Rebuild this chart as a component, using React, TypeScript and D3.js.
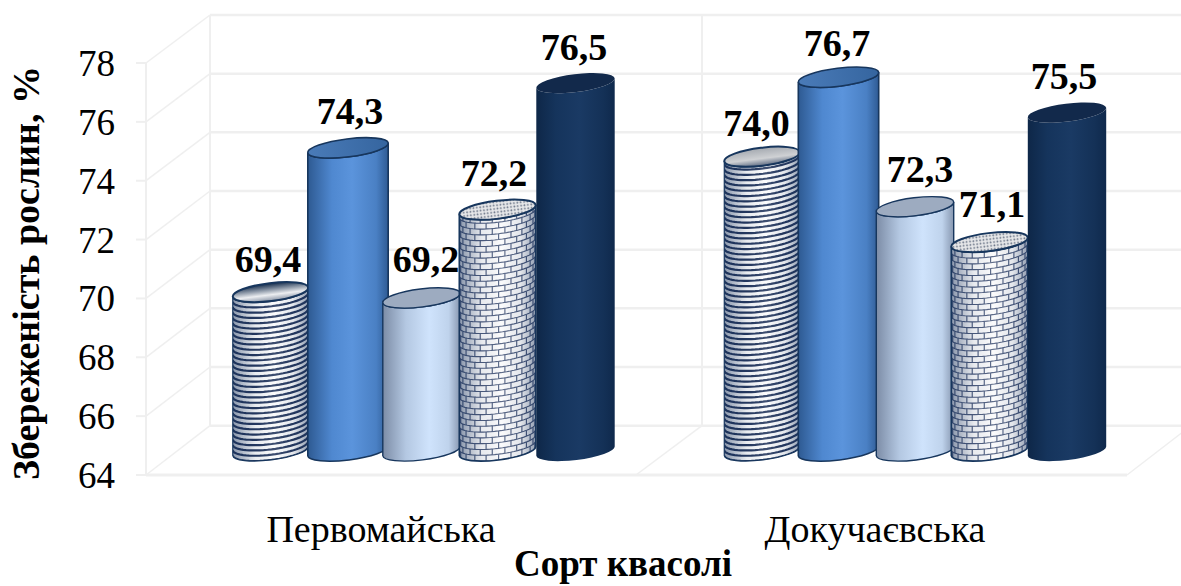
import React from "react";
import * as d3 from "d3";

// Survival of bean plants by variety and treatment variant
const categories = ["Первомайська", "Докучаєвська"];
const seriesKeys = ["a", "b", "c", "d", "e"];
const pervomaiskaValues = [69.4, 74.3, 69.2, 72.2, 76.5];
const dokuchaievskaValues = [74.0, 76.7, 72.3, 71.1, 75.5];
const groupValues = [pervomaiskaValues, dokuchaievskaValues];
const yTicks = [64, 66, 68, 70, 72, 74, 76, 78];
const yTitle = "Збереженість рослин, %";
const xTitle = "Сорт квасолі";

// Layout of the pseudo-3D box
const W = 1181;
const H = 586;
const depthX = 64;
const frontLeft = 146;
const frontRight = 1127;
const floorFront = 475;
const wallFront = 63;
const backFloor = 425.7;
const backTop = 15;
const barBase = 451;
const tilt = 7; // degrees the cylinder ellipses lean by
const ry = 9;
const barWidths = [76, 81, 78, 77, 79];
// Perspective drift of each cylinder away from the even spacing
const barShifts = [
  [2.5, 3.5, 0.5, 0, 1.5],
  [0, 0, 0, -2, -1],
];
const labelNudges = [
  [[-2.5, 3], [2, -1], [4.5, -3], [-3.5, -1], [-1.5, 0]],
  [[-5.5, 2], [-1.5, 2], [5, -2], [2.5, -2], [-3, -1]],
];
const FONT = "'Liberation Serif', 'Times New Roman', serif";
const NAVY = "#17365d";

const yFront = d3.scaleLinear().domain([64, 78]).range([floorFront, wallFront]);
const yBack = d3.scaleLinear().domain([64, 78]).range([backFloor, backTop]);
const yBar = d3.scaleLinear().domain([64, 78]).range([barBase, barBase - (floorFront - wallFront)]);
const xGroup = d3.scaleBand().domain(categories).range([174, 1162]);
const xSeries = d3.scalePoint().domain(seriesKeys).range([-153, 153]);
const formatValue = (v: number) => d3.format(".1f")(v).replace(".", ",");
const curve = d3.line<[number, number]>();

const phi = (tilt * Math.PI) / 180;
// Point on the rim of a tilted ellipse; theta 0 is the front-most point, +90deg the right end
const rim = (cx: number, cy: number, rx: number, theta: number): [number, number] => {
  const u = rx * Math.sin(theta);
  const v = ry * Math.cos(theta);
  return [cx + u * Math.cos(phi) + v * Math.sin(phi), cy - u * Math.sin(phi) + v * Math.cos(phi)];
};

const bodyPath = (cx: number, top: number, bottom: number, rx: number) => {
  const [lx, ly] = rim(cx, 0, rx, -Math.PI / 2);
  const [rxp, ryp] = rim(cx, 0, rx, Math.PI / 2);
  return `M${lx},${top + ly}L${lx},${bottom + ly}A${rx},${ry} ${-tilt} 0 0 ${rxp},${bottom + ryp}L${rxp},${top + ryp}A${rx},${ry} ${-tilt} 0 1 ${lx},${top + ly}Z`;
};

const arcThetas = d3.range(-90, 91, 6).map((d) => (d * Math.PI) / 180);

function Stripes({ cx, top, bottom, rx }: { cx: number; top: number; bottom: number; rx: number }) {
  const rows = d3.range(bottom, top - 6, -5.3);
  return (
    <g>
      {rows.map((y, i) => (
        <path
          key={i}
          d={curve(arcThetas.map((t) => rim(cx, y, rx, t))) || ""}
          fill="none"
          stroke="#24375e"
          strokeWidth={2.2}
        />
      ))}
    </g>
  );
}

function Bricks({ cx, top, bottom, rx }: { cx: number; top: number; bottom: number; rx: number }) {
  const rowH = 5.8;
  const rows = d3.range(bottom, top - rowH, -rowH);
  const stepDeg = 19;
  return (
    <g fill="none" stroke="#4b5a7c" strokeWidth={1.15}>
      {rows.map((y, i) => (
        <g key={i}>
          <path d={curve(arcThetas.map((t) => rim(cx, y, rx, t))) || ""} />
          {d3.range(-95 + (i % 2) * (stepDeg / 2), 95, stepDeg).map((deg) => {
            const t = (deg * Math.PI) / 180;
            const [x1, y1] = rim(cx, y, rx, t);
            return <path key={deg} d={`M${x1},${y1}L${x1},${y1 - rowH}`} />;
          })}
        </g>
      ))}
    </g>
  );
}

export default function App() {
  const backLeft = frontLeft + depthX;
  const midFront = 636;
  const backMid = midFront + depthX + 2;

  return (
    <svg
      width={W}
      height={H}
      viewBox={`0 0 ${W} ${H}`}
      style={{ position: "fixed", left: 0, top: 0, background: "#fff" }}
    >
      <defs>
        <linearGradient id="side-b">
          <stop offset="0" stopColor="#2e5a92" />
          <stop offset="0.3" stopColor="#4f88d0" />
          <stop offset="0.55" stopColor="#5b94dc" />
          <stop offset="0.85" stopColor="#4a80c4" />
          <stop offset="1" stopColor="#2f5b94" />
        </linearGradient>
        <linearGradient id="top-b">
          <stop offset="0" stopColor="#4a7bb8" />
          <stop offset="1" stopColor="#35659f" />
        </linearGradient>
        <linearGradient id="side-c">
          <stop offset="0" stopColor="#7c8ca6" />
          <stop offset="0.3" stopColor="#b4c8e2" />
          <stop offset="0.6" stopColor="#cfe3fc" />
          <stop offset="0.85" stopColor="#bfd3ec" />
          <stop offset="1" stopColor="#8797b0" />
        </linearGradient>
        <linearGradient id="side-e">
          <stop offset="0" stopColor="#0e2748" />
          <stop offset="0.25" stopColor="#15345c" />
          <stop offset="0.55" stopColor="#1a3a64" />
          <stop offset="0.85" stopColor="#143157" />
          <stop offset="1" stopColor="#0f294c" />
        </linearGradient>
        <linearGradient id="shade">
          <stop offset="0" stopColor="#16305a" stopOpacity="0.5" />
          <stop offset="0.3" stopColor="#16305a" stopOpacity="0.08" />
          <stop offset="0.55" stopColor="#ffffff" stopOpacity="0.12" />
          <stop offset="0.8" stopColor="#16305a" stopOpacity="0.1" />
          <stop offset="1" stopColor="#16305a" stopOpacity="0.45" />
        </linearGradient>
        <linearGradient id="top-a-0" x1="0" y1="0" x2="0" y2="1">
          <stop offset="0" stopColor="#0f2747" />
          <stop offset="0.65" stopColor="#eceef1" />
          <stop offset="1" stopColor="#8893a5" />
        </linearGradient>
        <linearGradient id="top-a-1" x1="0" y1="0" x2="0" y2="1">
          <stop offset="0" stopColor="#a4a9b0" />
          <stop offset="0.6" stopColor="#cfd1d4" />
          <stop offset="1" stopColor="#5d6b82" />
        </linearGradient>
        <pattern id="dots" width="3.4" height="3.4" patternUnits="userSpaceOnUse">
          <rect width="3.4" height="3.4" fill="#e6e7e9" />
          <circle cx="1.2" cy="1.2" r="0.9" fill="#6c7688" />
        </pattern>
      </defs>

      {/* Back wall, floor and side wall of the box */}
      <g fill="none" stroke="#efefef">
        {yTicks.map((t) => (
          <g key={t}>
            <line x1={backLeft} x2={W} y1={yBack(t)} y2={yBack(t)} strokeWidth={2.5} />
            <line x1={frontLeft - 10} x2={frontLeft} y1={yFront(t)} y2={yFront(t)} strokeWidth={2} />
            <line x1={frontLeft} x2={backLeft} y1={yFront(t)} y2={yBack(t)} strokeWidth={1.5} />
          </g>
        ))}
        <line x1={frontLeft} x2={frontLeft} y1={wallFront} y2={floorFront} strokeWidth={2} />
        <line x1={backLeft} x2={backLeft} y1={backTop} y2={backFloor} strokeWidth={2} />
        <line x1={backMid} x2={backMid} y1={backTop} y2={backFloor} strokeWidth={2} />
        <line x1={frontLeft} x2={frontRight} y1={floorFront} y2={floorFront} strokeWidth={3} />
        <line x1={midFront} x2={backMid} y1={floorFront} y2={backFloor} strokeWidth={1.5} />
        <line x1={frontRight} x2={frontRight + depthX} y1={floorFront} y2={backFloor} strokeWidth={1.5} />
      </g>

      {/* Cylinders */}
      {categories.map((cat, g) => {
        const groupCx = (xGroup(cat) as number) + xGroup.bandwidth() / 2;
        return (
          <g key={cat}>
            {seriesKeys.map((key, s) => {
              const v = groupValues[g][s];
              const cx = groupCx + (xSeries(key) as number) + barShifts[g][s];
              const rx = barWidths[s] / 2;
              const top = yBar(v);
              const clipId = `clip-${g}-${s}`;
              const d = bodyPath(cx, top, barBase, rx);
              const ellipseTf = `rotate(${-tilt} ${cx} ${top})`;
              return (
                <g key={key}>
                  <clipPath id={clipId}>
                    <path d={d} />
                  </clipPath>
                  {key === "a" && (
                    <>
                      <path d={d} fill="#fbfcfd" />
                      <g clipPath={`url(#${clipId})`}>
                        <Stripes cx={cx} top={top} bottom={barBase} rx={rx} />
                      </g>
                      <path d={d} fill="url(#shade)" stroke={NAVY} strokeWidth={1.2} />
                      <ellipse cx={cx} cy={top} rx={rx} ry={ry} transform={ellipseTf} fill={`url(#top-a-${g})`} stroke={NAVY} strokeWidth={2} />
                    </>
                  )}
                  {key === "b" && (
                    <>
                      <path d={d} fill="url(#side-b)" stroke={NAVY} strokeWidth={1.6} />
                      <ellipse cx={cx} cy={top} rx={rx} ry={ry} transform={ellipseTf} fill="url(#top-b)" stroke={NAVY} strokeWidth={1.6} />
                    </>
                  )}
                  {key === "c" && (
                    <>
                      <path d={d} fill="url(#side-c)" stroke={NAVY} strokeWidth={1.4} />
                      <ellipse cx={cx} cy={top} rx={rx} ry={ry} transform={ellipseTf} fill="#9dabc0" stroke={NAVY} strokeWidth={1.4} />
                    </>
                  )}
                  {key === "d" && (
                    <>
                      <path d={d} fill="#fbfbfc" />
                      <g clipPath={`url(#${clipId})`}>
                        <Bricks cx={cx} top={top} bottom={barBase} rx={rx} />
                      </g>
                      <path d={d} fill="url(#shade)" stroke={NAVY} strokeWidth={1.6} />
                      <ellipse cx={cx} cy={top} rx={rx} ry={ry} transform={ellipseTf} fill="url(#dots)" stroke={NAVY} strokeWidth={2} />
                    </>
                  )}
                  {key === "e" && (
                    <>
                      <path d={d} fill="url(#side-e)" />
                      <ellipse cx={cx} cy={top} rx={rx} ry={ry} transform={ellipseTf} fill="#12294b" />
                    </>
                  )}
                </g>
              );
            })}
          </g>
        );
      })}

      {/* Value labels sit above the bars */}
      <g fontFamily={FONT} fontWeight="bold" fontSize={38} textAnchor="middle" fill="#000">
        {categories.map((cat, g) => {
          const groupCx = (xGroup(cat) as number) + xGroup.bandwidth() / 2;
          return seriesKeys.map((key, s) => {
            const v = groupValues[g][s];
            const [dx, dy] = labelNudges[g][s];
            return (
              <text
                key={`${cat}-${key}`}
                x={groupCx + (xSeries(key) as number) + barShifts[g][s] + dx}
                y={yBar(v) - 23 + dy}
              >
                {formatValue(v)}
              </text>
            );
          });
        })}
      </g>

      {/* Axis text */}
      <g fontFamily={FONT} fill="#000">
        {yTicks.map((t) => (
          <text key={t} x={115} y={yFront(t) + 13} fontSize={37} textAnchor="end">
            {t}
          </text>
        ))}
        {categories.map((cat) => (
          <text
            key={cat}
            x={(xGroup(cat) as number) + xGroup.bandwidth() / 2 - 40}
            y={542}
            fontSize={38}
            textAnchor="middle"
          >
            {cat}
          </text>
        ))}
        <text x={623} y={576} fontSize={37} fontWeight="bold" textAnchor="middle">
          {xTitle}
        </text>
        <text
          transform="translate(39,273) rotate(-90)"
          fontSize={38}
          fontWeight="bold"
          textAnchor="middle"
        >
          {yTitle}
        </text>
      </g>
    </svg>
  );
}
